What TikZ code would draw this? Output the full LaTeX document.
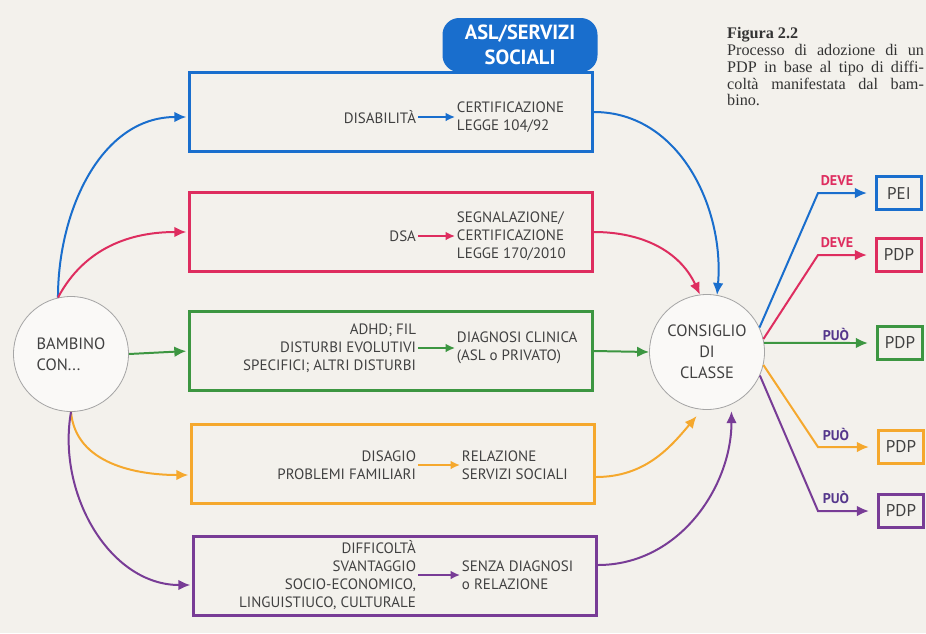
\documentclass[tikz,border=0pt]{standalone}
\usepackage{fontspec}
\setmainfont{PT Sans}
\newfontfamily\capfont{Liberation Serif}
\usetikzlibrary{arrows.meta}
\definecolor{paper}{RGB}{243,241,236}
\definecolor{txt}{RGB}{65,65,65}
\definecolor{cblu}{RGB}{25,110,205}
\definecolor{cred}{RGB}{222,45,95}
\definecolor{cgrn}{RGB}{60,150,65}
\definecolor{corg}{RGB}{245,168,45}
\definecolor{cpur}{RGB}{120,60,150}
\definecolor{cpuo}{RGB}{85,55,140}

\begin{document}
\begin{tikzpicture}[x=0.03cm,y=-0.03cm,
box/.style={draw,line width=2.4pt,minimum width=12.09cm,minimum height=2.37cm},
lbl/.style={anchor=east,align=right,inner xsep=1.5pt,inner ysep=0pt,text=txt,font=\fontsize{12.8}{15.5}\selectfont},
res/.style={lbl,anchor=west,align=left},
bubble/.style={circle,draw=gray!70,line width=0.7pt,fill=white!60!paper,minimum size=3.45cm,inner sep=0pt,text=txt,font=\fontsize{14}{18}\selectfont},
pdpbox/.style={draw,line width=2.2pt,minimum width=1.35cm,minimum height=0.99cm,inner sep=0pt,text=txt,font=\fontsize{14.5}{16}\selectfont},
tag/.style={inner sep=0pt,font=\bfseries\fontsize{12}{14}\selectfont},
arr/.style={-{Latex[length=3.6mm,width=3.2mm]},line width=1.7pt},
arrs/.style={-{Latex[length=2.8mm,width=2.6mm]},line width=1.5pt}]
\fill[paper] (0,0) rectangle (926,633);
\useasboundingbox (0,0) rectangle (926,633);
% boxes
\node[box,draw=cblu] (disab) at (391,112) {};
\node[box,draw=cred] (dsa) at (391,232) {};
\node[box,draw=cgrn] (adhd) at (391,351) {};
\node[box,draw=corg] (disag) at (393,464) {};
\node[box,draw=cpur] (svant) at (395,576) {};
\node[fill=cblu,rounded corners=0.5cm,minimum width=4.65cm,minimum height=1.62cm,text=white,align=center,font=\bfseries\fontsize{17.5}{21}\selectfont] (asl) at (520,45) {ASL/SERVIZI\\SOCIALI};
% texts inside
\node[lbl] (l1) at (418,117) {DISABILITÀ};
\node[res] (r1) at (455,117) {CERTIFICAZIONE\\LEGGE 104/92};
\node[lbl] (l2) at (418,236) {DSA};
\node[res] (r2) at (455,236) {SEGNALAZIONE/\\CERTIFICAZIONE\\LEGGE 170/2010};
\node[lbl] (l3) at (418,348) {ADHD; FIL\\DISTURBI EVOLUTIVI\\SPECIFICI; ALTRI DISTURBI};
\node[res] (r3) at (455,348) {DIAGNOSI CLINICA\\(ASL o PRIVATO)};
\node[lbl] (l4) at (418,465) {DISAGIO\\PROBLEMI FAMILIARI};
\node[res] (r4) at (460,465) {RELAZIONE\\SERVIZI SOCIALI};
\node[lbl] (l5) at (418,575) {DIFFICOLTÀ\\SVANTAGGIO\\SOCIO-ECONOMICO,\\LINGUISTIUCO, CULTURALE};
\node[res] (r5) at (460,575) {SENZA DIAGNOSI\\o RELAZIONE};
\draw[arrs,cblu](l1)--(r1);\draw[arrs,cred](l2)--(r2);\draw[arrs,cgrn](l3)--(r3);
\draw[arrs,corg](l4)--(r4);\draw[arrs,cpur](l5)--(r5);
% circles
\node[bubble,align=left] (bam) at (71,354) {BAMBINO\\CON...};
\node[bubble,align=center] (cons) at (707,352) {CONSIGLIO\\DI\\CLASSE};
\draw[arr,cblu,shorten >=1.5pt] (bam.103) to[out=90,in=180] ([yshift=-0.15cm]disab.west);
\draw[arr,cred,shorten >=1.5pt] (bam.103) to[out=62,in=180] (dsa.west);
\draw[arr,cgrn,shorten >=1.5pt] (bam.east) -- (adhd.west);
\draw[arr,corg,shorten >=1.5pt] (bam.-90) to[out=-85,in=180] ([yshift=-0.33cm]disag.west);
\draw[arr,cpur,shorten >=1.5pt] (bam.-90) to[out=-100,in=180] ([yshift=-0.27cm]svant.west);
\draw[arr,cblu] (disab.east) to[out=0,in=85] (cons.80);
\draw[arr,cred] (dsa.east) to[out=0,in=115] (cons.97);
\draw[arr,cgrn] (adhd.east) -- (cons.west);
\draw[arr,corg,shorten >=2.5mm] ([yshift=-0.39cm]disag.east) to[out=0,in=-130] (cons.-95);
\draw[arr,cpur,shorten >=2mm] ([yshift=0.33cm]svant.east) to[out=0,in=-90] (cons.-65);
% outcomes
\node[pdpbox,draw=cblu] (pei) at (899,193) {PEI};
\node[pdpbox,draw=cred] (pdp2) at (899,255) {PDP};
\node[pdpbox,draw=cgrn] (pdp3) at (900,343) {PDP};
\node[pdpbox,draw=corg] (pdp4) at (901,447) {PDP};
\node[pdpbox,draw=cpur] (pdp5) at (901,511) {PDP};
\coordinate (k) at (818,0);
\draw[arr,cblu,shorten >=2.5mm] (cons.25) -- (k |- pei.west) -- (pei.west);
\draw[arr,cred,shorten >=2.5mm] (cons.13) -- (k |- pdp2.west) -- (pdp2.west);
\draw[arr,cgrn,shorten >=2.5mm] (cons.9) -- (pdp3.west);
\draw[arr,corg,shorten >=2.5mm] (cons.-13) -- (k |- pdp4.west) -- (pdp4.west);
\draw[arr,cpur,shorten >=2.5mm] (cons.-24) -- (k |- pdp5.west) -- (pdp5.west);
\node[tag,text=cred] (t1) at (837,181) {DEVE};
\node[tag,text=cred] (t2) at (837,243) {DEVE};
\node[tag,text=cpuo] (t3) at (836,334) {PUÒ};
\node[tag,text=cpuo] (t4) at (836,434) {PUÒ};
\node[tag,text=cpuo] (t5) at (836,497) {PUÒ};
% caption
\node[anchor=north west,inner sep=0pt,text width=5.9cm,align=justify,text=black!80,font=\capfont\fontsize{13.8}{14.4}\selectfont] (cap) at (727,27) {{\bfseries Figura 2.2}\\ Processo di adozione di un\linebreak PDP in base al tipo di diffi-\linebreak coltà manifestata dal bam-\linebreak bino.};
\end{tikzpicture}
\end{document}
